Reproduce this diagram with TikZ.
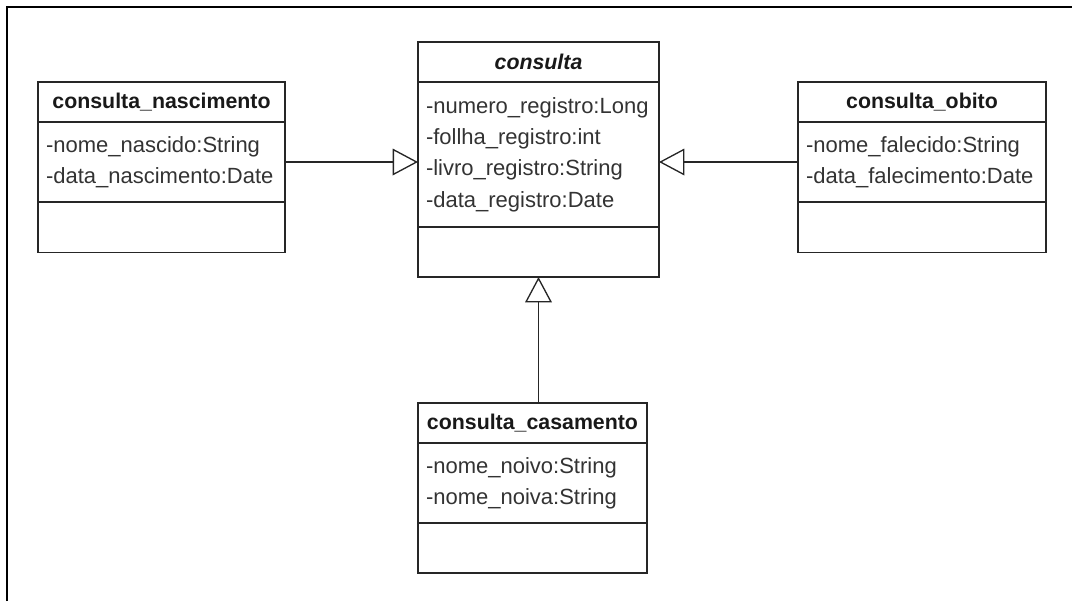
\documentclass[tikz,border=0pt]{standalone}
\usepackage{fontspec}
\setmainfont{Liberation Sans}
\usetikzlibrary{arrows.meta, positioning}

\begin{document}
\begin{tikzpicture}[x=0.75pt, y=-0.75pt]
		\tikzstyle{Head} = [rectangle, minimum height=30pt, text centered, draw=black!85, line width=1pt, outer sep=0pt, text=black!90, font=\fontsize{16}{20}\selectfont\bfseries]
		\tikzstyle{Attr} = [rectangle, minimum height=60pt, align=left, inner xsep=6pt, draw=black!85, line width=1pt, outer sep=0pt, text=black!80, font=\fontsize{16.5}{23.5}\selectfont]
		\tikzstyle{Ops} = [rectangle, minimum height=38pt, draw=black!85, line width=1pt, outer sep=0pt]
		\tikzstyle{arrow} = [line width=1pt, draw=black!85, -{Triangle[open, length=19pt, width=20pt]}]

		\useasboundingbox (0,0) rectangle (1072,601);
		\draw[line width=1.6pt] (7,601) -- (7,7) -- (1072,7);

		% consulta (abstrata)
		\node (cons) [Head, minimum width=180.75pt] at (538.5,62) {\textit{consulta}};
		\node (consAttr) [Attr, below=0mm of cons, minimum height=108.75pt, text width=168.75pt] {-numero\_registro:Long\\-follha\_registro:int\\-livro\_registro:String\\-data\_registro:Date};
		\node (consOps) [Ops, below=0mm of consAttr, minimum width=180.75pt, minimum height=37.5pt] {};

		% consulta_nascimento
		\node (nasc) [Head, minimum width=185.25pt] at (161.5,102) {consulta\_nascimento};
		\node (nascAttr) [Attr, below=0mm of nasc, text width=173.25pt] {-nome\_nascido:String\\-data\_nascimento:Date};
		\node (nascOps) [Ops, below=0mm of nascAttr, minimum width=185.25pt] {};

		% consulta_obito
		\node (obito) [Head, minimum width=186pt] at (922,102) {consulta\_obito};
		\node (obitoAttr) [Attr, below=0mm of obito, text width=174pt] {-nome\_falecido:String\\-data\_falecimento:Date};
		\node (obitoOps) [Ops, below=0mm of obitoAttr, minimum width=186pt] {};

		% consulta_casamento
		\node (cas) [Head, minimum width=171.75pt] at (532.5,423) {consulta\_casamento};
		\node (casAttr) [Attr, below=0mm of cas, text width=159.75pt] {-nome\_noivo:String\\-nome\_noiva:String};
		\node (casOps) [Ops, below=0mm of casAttr, minimum width=171.75pt, minimum height=37.5pt] {};

		% heranca
		\draw[arrow] (nascAttr.east) -- (nascAttr.east -| consAttr.west);
		\draw[arrow] (obitoAttr.west) -- (obitoAttr.west -| consAttr.east);
		\draw[arrow] (consOps.south |- cas.north) -- (consOps.south);
\end{tikzpicture}
\end{document}
